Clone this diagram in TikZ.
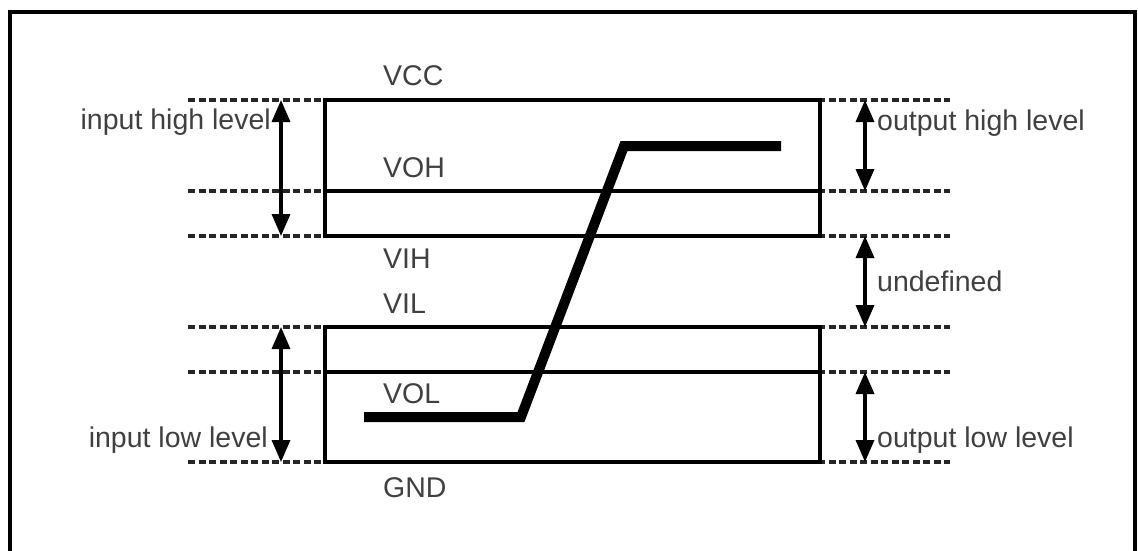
\documentclass[tikz,border=0pt]{standalone}
\usepackage{fontspec}
\setmainfont{Liberation Sans}
\usetikzlibrary{arrows.meta}
\begin{document}
\begin{tikzpicture}[x=1pt,y=-1pt,
  lbl/.style={inner sep=0pt,text=black!75,font=\fontsize{28.5}{34}\selectfont},
  dashln/.style={line width=3.2pt,dash pattern=on 7pt off 3.5pt,black!85},
  boxln/.style={line width=3.6pt,black},
  dimarrow/.style={line width=3.4pt,{Triangle[length=22pt,width=18pt]}-{Triangle[length=22pt,width=18pt]}},
  curve/.style={line width=10pt,line join=miter}]
\useasboundingbox (0,0) rectangle (1138,550);
% frame
\draw[line width=3.6pt] (10,570) -- (10,12) -- (1135,12) -- (1135,570);
% level coordinates
\foreach \n/\y in {vcc/100,voh/191,vih/236,vil/327,vol/372,gnd/462}{
  \coordinate (\n L) at (188,\y);
  \coordinate (\n R) at (950,\y);
  \draw[dashln] (\n L) -- (\n R);
}
% boxes
\draw[boxln] (325,100) rectangle (820,236);
\draw[boxln] (325,191) -- (820,191);
\draw[boxln] (325,327) rectangle (820,462);
\draw[boxln] (325,372) -- (820,372);
% labels of levels
\node[lbl,anchor=base west] (tvcc) at (383,85) {VCC};
\node[lbl,anchor=base west] (tvoh) at (383,177) {VOH};
\node[lbl,anchor=base west] (tvih) at (383,268) {VIH};
\node[lbl,anchor=base west] (tvil) at (383,313) {VIL};
\node[lbl,anchor=base west] (tvol) at (383,403) {VOL};
\node[lbl,anchor=base west] (tgnd) at (383,497) {GND};
% arrows
\coordinate (aih1) at (281,100); \coordinate (aih2) at (281,236);
\coordinate (ail1) at (281,327); \coordinate (ail2) at (281,462);
\coordinate (aoh1) at (865,100); \coordinate (aoh2) at (865,191);
\coordinate (aun1) at (865,236); \coordinate (aun2) at (865,327);
\coordinate (aol1) at (865,372); \coordinate (aol2) at (865,462);
\draw[dimarrow] (aih1) -- (aih2);
\draw[dimarrow] (ail1) -- (ail2);
\draw[dimarrow] (aoh1) -- (aoh2);
\draw[dimarrow] (aun1) -- (aun2);
\draw[dimarrow] (aol1) -- (aol2);
% side labels
\node[lbl,anchor=base east] (tih) at (271,129) {input high level};
\node[lbl,anchor=base east] (til) at (268,447) {input low level};
\node[lbl,anchor=base west] (toh) at (877,130) {output high level};
\node[lbl,anchor=base west] (tun) at (877,291) {undefined};
\node[lbl,anchor=base west] (tol) at (877,447) {output low level};
% transfer curve
\coordinate (c1) at (364,417);
\coordinate (c2) at (521,417);
\coordinate (c3) at (624,146);
\coordinate (c4) at (781,146);
\draw[curve] (c1) -- (c2) -- (c3) -- (c4);
\end{tikzpicture}
\end{document}
